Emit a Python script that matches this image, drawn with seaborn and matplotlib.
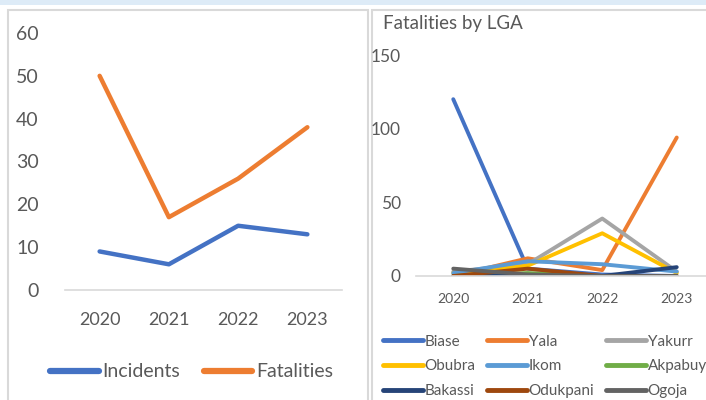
import matplotlib
matplotlib.use("Agg")
import matplotlib.pyplot as plt
from matplotlib.patches import Rectangle
import seaborn as sns
import pandas as pd

# Left chart: incidents and fatalities per year
years = ["2020", "2021", "2022", "2023"]
incidents = [9, 6, 15, 13]
fatalities = [50, 17, 26, 38]

# Right chart: fatalities per LGA
lgas = ["Biase", "Yala", "Yakurr", "Obubra", "Ikom",
        "Akpabuyo", "Bakassi", "Odukpani", "Ogoja"]
lga_values = {
    "Biase":    [120, 5, 1, 0],
    "Yala":     [0, 12, 4, 94],
    "Yakurr":   [3, 8, 39, 3],
    "Obubra":   [2, 7, 29, 2],
    "Ikom":     [2, 10, 8, 3],
    "Akpabuyo": [0, 2, 0, 0],
    "Bakassi":  [0, 0, 0, 6],
    "Odukpani": [0, 5, 0, 0],
    "Ogoja":    [5, 1, 0, 0],
}
lga_colors = ["#4472C4", "#ED7D31", "#A5A5A5", "#FFC000", "#5B9BD5",
              "#70AD47", "#264478", "#9E480E", "#636363"]

TXT = "#595959"
GRID = "#D9D9D9"

sns.set_theme(style="white")
plt.rcParams['font.family'] = ['Lato', 'DejaVu Sans']

W, H = 706, 400
fig = plt.figure(figsize=(W / 100, H / 100), dpi=100)

# background frame: blue strip on top and the two panel borders
fig.patches.append(Rectangle((0, 1 - 5 / H), 1, 5 / H, transform=fig.transFigure,
                             facecolor="#DDEBF7", edgecolor="none", zorder=-1))
fig.patches.append(Rectangle((8 / W, -0.05), 360 / W, 1.05 - 10 / H, transform=fig.transFigure,
                             facecolor="white", edgecolor=GRID, linewidth=1.5, zorder=-1))
fig.patches.append(Rectangle((372 / W, -0.05), 340 / W, 1.05 - 10 / H, transform=fig.transFigure,
                             facecolor="white", edgecolor=GRID, linewidth=1.5, zorder=-1))


def axes_px(x0, x1, y_top, y_bottom):
    return fig.add_axes([x0 / W, 1 - y_bottom / H, (x1 - x0) / W, (y_bottom - y_top) / H])


def style_axes(ax, ymax, step, xfs, yfs, xpad, ypad):
    ax.set_facecolor("none")
    ax.set_xlim(-0.5, 3.5)
    ax.set_ylim(0, ymax)
    ax.set_yticks(range(0, ymax + 1, step))
    for s in ["top", "right", "left"]:
        ax.spines[s].set_visible(False)
    ax.spines["bottom"].set_color(GRID)
    ax.spines["bottom"].set_linewidth(1.2)
    ax.tick_params(axis="both", length=0, colors=TXT)
    ax.tick_params(axis="x", labelsize=xfs, pad=xpad)
    ax.tick_params(axis="y", labelsize=yfs, pad=ypad)
    ax.set_xlabel("")
    ax.set_ylabel("")


# ---- left chart ----
df_left = pd.DataFrame({
    "Year": years * 2,
    "Value": incidents + fatalities,
    "Series": ["Incidents"] * 4 + ["Fatalities"] * 4,
})
ax1 = axes_px(65, 342, 33, 290)
sns.lineplot(data=df_left, x="Year", y="Value", hue="Series",
             palette=["#4472C4", "#ED7D31"], linewidth=3.2, ax=ax1, sort=False)
style_axes(ax1, 60, 10, 13, 14, xpad=16, ypad=19)
leg = ax1.legend(loc="center left", bbox_to_anchor=(-0.054, -0.319), ncol=2, frameon=False,
                 fontsize=14, handlelength=2.5, handletextpad=0.2, columnspacing=1.2,
                 borderpad=0, borderaxespad=0, labelcolor=TXT)
for h in leg.get_lines():
    h.set_linewidth(4.5)
    h.set_solid_capstyle("round")

# ---- right chart ----
rows = []
for name in lgas:
    for yr, v in zip(years, lga_values[name]):
        rows.append({"Year": yr, "Fatalities": v, "LGA": name})
df_right = pd.DataFrame(rows)

ax2 = axes_px(416, 714, 55, 276)
sns.lineplot(data=df_right, x="Year", y="Fatalities", hue="LGA", hue_order=lgas,
             palette=lga_colors, linewidth=2.8, ax=ax2, sort=False)
style_axes(ax2, 150, 50, 10, 12.5, xpad=12, ypad=11)
ax2.set_title("Fatalities by LGA", loc="left", x=-0.112, y=1.08, fontsize=13.5, color=TXT)

# legend filled row by row, as in the original
handles, labels = ax2.get_legend_handles_labels()
order = [0, 3, 6, 1, 4, 7, 2, 5, 8]
leg2 = ax2.legend([handles[i] for i in order], [labels[i] for i in order],
                  loc="upper left", bbox_to_anchor=(-0.111, -0.265), ncol=3, frameon=False,
                  fontsize=11, handlelength=2.6, handletextpad=0.1, columnspacing=0.8,
                  labelspacing=0.7, borderpad=0, borderaxespad=0, labelcolor=TXT)
for h in leg2.get_lines():
    h.set_linewidth(3.5)
    h.set_solid_capstyle("round")

fig.savefig("out.png", dpi=100)
